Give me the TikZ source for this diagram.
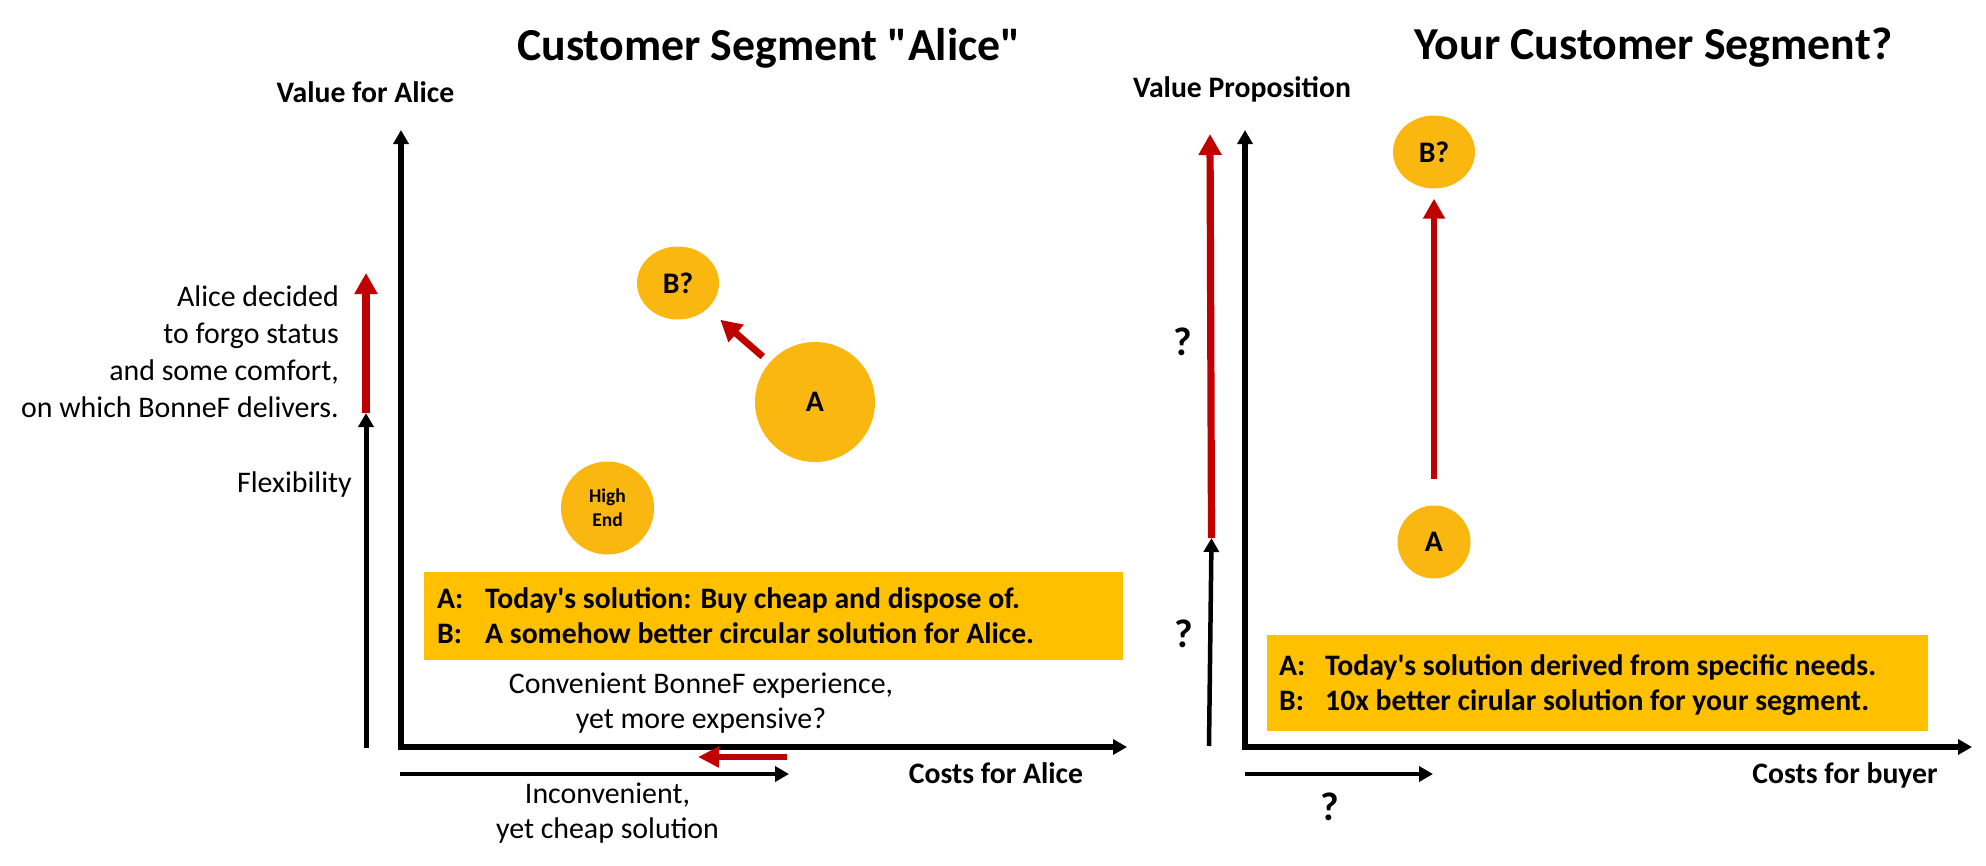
\documentclass[tikz,border=0pt]{standalone}
\usepackage{fontspec}
\setmainfont{Carlito}[Ligatures=TeXOff]
\usetikzlibrary{arrows.meta,shapes.geometric}
\definecolor{boxgold}{HTML}{FFC000}
\definecolor{circgold}{HTML}{FAB70F}
\definecolor{arrred}{HTML}{C00000}
\begin{document}
\begin{tikzpicture}[x=1bp,y=-1bp,
  axisline/.style={line width=5.5bp, line join=miter, {Triangle[length=14bp,width=15bp]}-{Triangle[length=14bp,width=15bp]}},
  blkarr/.style={line width=5bp, -{Triangle[length=14bp,width=15bp]}},
  redarr/.style={draw=arrred, line width=7.2bp, -{Triangle[length=21bp,width=22bp]}, color=arrred},
  bubble/.style={fill=circgold, draw=none, inner sep=0pt, font=\bfseries\fontsize{29.8bp}{34bp}\selectfont},
  notebox/.style={fill=boxgold, draw=none, inner sep=0pt, anchor=north west},
  plain/.style={inner sep=0pt, font=\fontsize{29.9bp}{36.7bp}\selectfont},
  boxtxt/.style={inner sep=0pt, anchor=base west, font=\bfseries\fontsize{29.7bp}{35bp}\selectfont},
  axlbl/.style={inner sep=0pt, anchor=base, font=\bfseries\fontsize{29.7bp}{32bp}\selectfont},
  ttl/.style={inner sep=0pt, anchor=base, font=\bfseries\fontsize{45.8bp}{54bp}\selectfont},
  qmark/.style={inner sep=0pt, anchor=base, font=\bfseries\fontsize{40bp}{44bp}\selectfont}
]
\useasboundingbox (0,0) rectangle (1986,866);

% ---------------- Left panel ----------------
\node[ttl] (titleL) at (769,60) {Customer Segment "Alice"};
\node[axlbl] (ylblL) at (365.5,102) {Value for Alice};
\node[axlbl] (xlblL) at (996,783) {Costs for Alice};

\coordinate (LO) at (401,747);
\coordinate (LY) at (401,130);
\coordinate (LX) at (1127,747);
\draw[axisline] (LY) -- (LO) -- (LX);

\coordinate (lb0) at (366,748);
\coordinate (lb1) at (366,413);
\coordinate (lr1) at (366,273);
\draw[redarr] (lb1) -- (lr1);
\draw[blkarr] (lb0) -- (lb1);

\node[plain, anchor=base east, align=right] (alicetxt) at (339,417)
  {Alice decided\\to forgo status\\and some comfort,\\on which BonneF delivers.};
\node[plain, anchor=base east] (flex) at (352,492) {Flexibility};

\node[bubble, ellipse, minimum width=82bp, minimum height=73bp] (BL) at (678,283) {B?};
\node[bubble, circle, minimum size=120bp] (AL) at (815,402) {A};
\node[bubble, circle, minimum size=93bp, align=center,
      font=\bfseries\fontsize{19.5bp}{24bp}\selectfont] (HE) at (607.5,508) {High\\End};
\draw[redarr, line width=6.8bp, shorten <=9bp, shorten >=17bp] (AL) -- (BL);

\node[notebox, minimum width=699bp, minimum height=88bp] (boxL) at (424,572) {};
\node[boxtxt] (la1) at (437,608) {A:};
\node[boxtxt] (lt1) at (485,608) {Today's solution: Buy cheap and dispose of.};
\node[boxtxt] (la2) at (437,643) {B:};
\node[boxtxt] (lt2) at (485,643) {A somehow better circular solution for Alice.};

\node[plain, anchor=base, align=center, font=\fontsize{29.9bp}{35bp}\selectfont] (conv) at (701,728)
  {Convenient BonneF experience,\\yet more expensive?};

\coordinate (lxr0) at (787,757);
\coordinate (lxr1) at (698,757);
\draw[redarr, line width=6.7bp, -{Triangle[length=21bp,width=20bp]}] (lxr0) -- (lxr1);
\coordinate (lxb0) at (400,774);
\coordinate (lxb1) at (789,774);
\draw[blkarr, line width=4.5bp] (lxb0) -- (lxb1);

\node[plain, anchor=base, align=center, font=\fontsize{29.9bp}{35bp}\selectfont] (incon) at (607.5,838)
  {Inconvenient,\\yet cheap solution};

% ---------------- Right panel ----------------
\node[ttl] (titleR) at (1653.5,59) {Your Customer Segment?};
\node[axlbl] (ylblR) at (1242,97) {Value Proposition};
\node[axlbl] (xlblR) at (1845,783) {Costs for buyer};

\coordinate (RO) at (1245,747);
\coordinate (RY) at (1245,130);
\coordinate (RX) at (1972,747);
\draw[axisline] (RY) -- (RO) -- (RX);

\coordinate (rb0) at (1209,746);
\coordinate (rb1) at (1211.5,538);
\coordinate (rr1) at (1210,134);
\draw[redarr] (rb1) -- (rr1);
\draw[blkarr, line width=4.5bp] (rb0) -- (rb1);

\node[qmark] (q1) at (1183,355) {?};
\node[qmark] (q2) at (1183.5,647) {?};

\node[bubble, ellipse, minimum width=82bp, minimum height=73bp] (BR) at (1434,152) {B?};
\node[bubble, circle, minimum size=73bp] (AR) at (1434,542) {A};
\draw[redarr, line width=6.7bp, -{Triangle[length=20bp,width=21bp]}, shorten <=26bp, shorten >=10bp] (AR) -- (BR);

\node[notebox, minimum width=661bp, minimum height=96bp] (boxR) at (1267,635) {};
\node[boxtxt] (ra1) at (1279,675) {A:};
\node[boxtxt] (rt1) at (1325,675) {Today's solution derived from specific needs.};
\node[boxtxt] (ra2) at (1279,710) {B:};
\node[boxtxt] (rt2) at (1325,710) {10x better cirular solution for your segment.};

\coordinate (rxb0) at (1245,774);
\coordinate (rxb1) at (1433,774);
\draw[blkarr, line width=4.5bp] (rxb0) -- (rxb1);
\node[qmark] (q3) at (1329.5,820) {?};
\end{tikzpicture}
\end{document}
